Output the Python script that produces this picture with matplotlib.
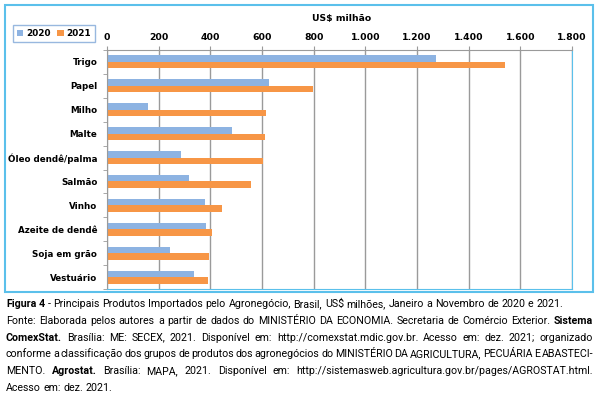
import matplotlib
matplotlib.use('Agg')
import matplotlib.pyplot as plt
import numpy as np
from matplotlib.patches import Rectangle
from matplotlib.ticker import FuncFormatter

produtos = ['Trigo', 'Papel', 'Milho', 'Malte', 'Óleo dendê/palma', 'Salmão',
            'Vinho', 'Azeite de dendê', 'Soja em grão', 'Vestuário']
v2020 = [1275, 629, 157, 482, 285, 319, 381, 382, 245, 338]
v2021 = [1540, 797, 617, 612, 603, 558, 444, 405, 394, 391]
xticks = [0, 200, 400, 600, 800, 1000, 1200, 1400, 1600, 1800]

# legenda: *palavra* = negrito
legenda = [
    '*Figura* *4* - Principais Produtos Importados pelo Agronegócio, Brasil, US$ milhões, Janeiro a Novembro de 2020 e 2021.',
    'Fonte: Elaborada pelos autores a partir de dados do MINISTÉRIO DA ECONOMIA. Secretaria de Comércio Exterior. *Sistema*',
    '*ComexStat*. Brasília: ME: SECEX, 2021. Disponível em: http://comexstat.mdic.gov.br. Acesso em: dez. 2021; organizado',
    'conforme a classificação dos grupos de produtos dos agronegócios do MINISTÉRIO DA AGRICULTURA, PECUÁRIA E ABASTECI-',
    'MENTO. *Agrostat*. Brasília: MAPA, 2021. Disponível em: http://sistemasweb.agricultura.gov.br/pages/AGROSTAT.html.',
    'Acesso em: dez. 2021.',
]
justificar = [False, True, True, True, True, False]

azul = '#8db3e2'
laranja = '#f79646'
borda = '#5bc0eb'
cinza = '#9a9a9a'

W, H = 599, 394
fig = plt.figure(figsize=(W / 100, H / 100), dpi=100)


def fx(px):
    return px / W


def fy(py):
    return 1 - py / H


fig.patches.append(Rectangle((fx(5), fy(292)), fx(593) - fx(5), fy(5) - fy(292),
                             transform=fig.transFigure, fill=False,
                             edgecolor=borda, lw=1.5))

ax = fig.add_axes([fx(107), fy(289), fx(572) - fx(107), fy(50) - fy(289)])
y = np.arange(len(produtos))
h = 0.27
ax.barh(y - h / 2, v2020, height=h, color=azul, label='2020')
ax.barh(y + h / 2, v2021, height=h, color=laranja, label='2021')
ax.set_ylim(len(produtos) - 0.5, -0.5)
ax.set_xlim(0, 1800)

ax.xaxis.tick_top()
ax.set_xticks(xticks)
ax.xaxis.set_major_formatter(FuncFormatter(lambda v, p: f'{int(v):,}'.replace(',', '.')))
ax.tick_params(axis='x', length=3, color=cinza, pad=3, labelsize=6.7)
for lbl in ax.get_xticklabels():
    lbl.set_fontweight('bold')
ax.grid(axis='x', color=cinza, lw=1)
ax.set_axisbelow(True)

ax.set_yticks(y)
ax.set_yticklabels(produtos, fontweight='bold', fontsize=6.3)
ax.tick_params(axis='y', which='major', length=0, pad=7)
ax.set_yticks(np.arange(-0.5, len(produtos)), minor=True)
ax.tick_params(axis='y', which='minor', length=3, color=cinza)

ax.spines['top'].set_color(cinza)
ax.spines['left'].set_color(cinza)
ax.spines['right'].set_color(borda)
ax.spines['bottom'].set_color(borda)

leg = ax.legend(loc='center', bbox_to_anchor=(fx(54), fy(33.5)),
                bbox_transform=fig.transFigure, ncol=2, fancybox=False,
                handlelength=0.7, handleheight=0.7, handletextpad=0.3,
                columnspacing=0.8, borderpad=0.45, prop={'weight': 'bold', 'size': 6.4})
leg.get_frame().set_edgecolor('#7ea6d8')
leg.get_frame().set_linewidth(1)

fig.text(fx(342), fy(19), 'US$ milhão', ha='center', va='center',
         fontsize=6.7, fontweight='bold')

# legenda justificada
renderer = fig.canvas.get_renderer()
fam = ['Liberation Sans Narrow', 'Roboto', 'DejaVu Sans']
tam = 8.0


def largura(txt, peso):
    t = fig.text(0, 0, txt, fontsize=tam, fontweight=peso, family=fam)
    w = t.get_window_extent(renderer).width
    t.remove()
    return w


def separar(linha):
    out = []
    for p in linha.split(' '):
        if '*' in p:
            out.append((p.replace('*', ''), 'bold'))
        else:
            out.append((p, 'normal'))
    return out


# ajusta o tamanho para a primeira linha ocupar a largura da original
p1 = separar(legenda[0])
esp = largura('a a', 'normal') - largura('aa', 'normal')
w1 = sum(largura(p, w) for p, w in p1) + esp * (len(p1) - 1)
tam = tam * (565 - 6) / w1

espaco = largura('a a', 'normal') - largura('aa', 'normal')
x0, x1 = 6, 593
for i, linha in enumerate(legenda):
    palavras = separar(linha)
    larg = [largura(p, w) for p, w in palavras]
    if justificar[i] and len(palavras) > 1:
        gap = (x1 - x0 - sum(larg)) / (len(palavras) - 1)
    else:
        gap = espaco
    x = x0
    yy = 307 + i * 16.8
    for (p, w), l in zip(palavras, larg):
        fig.text(fx(x), fy(yy), p, fontsize=tam, fontweight=w, family=fam,
                 ha='left', va='baseline')
        x += l + gap

fig.savefig('out.png', dpi=100)
